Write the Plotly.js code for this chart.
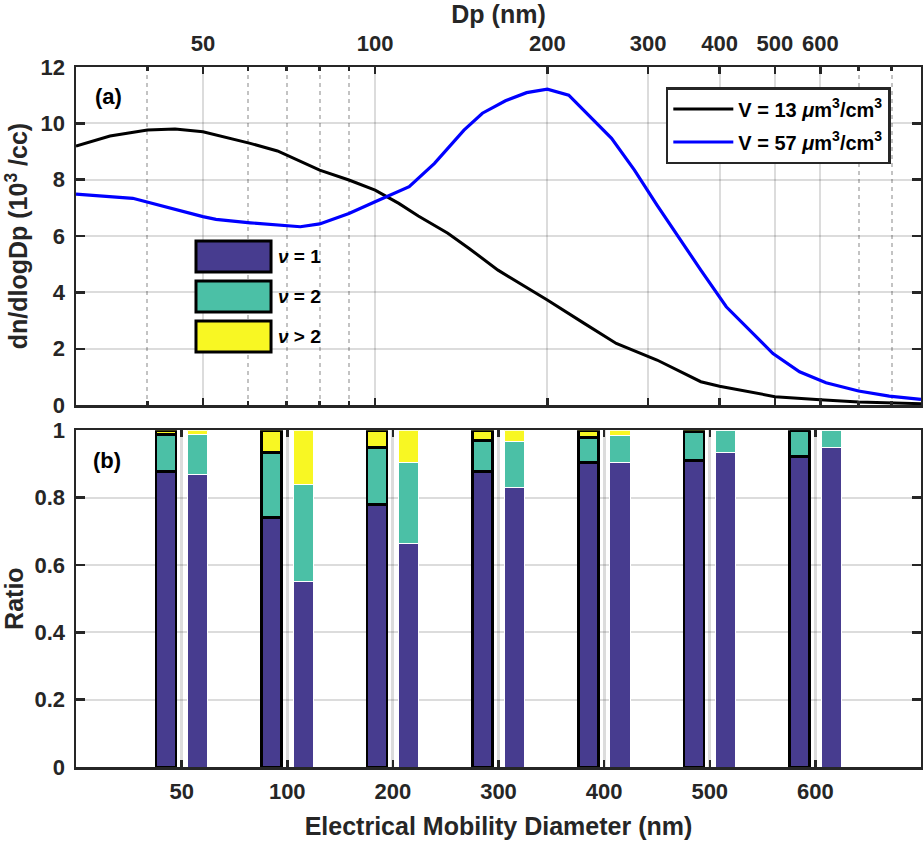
<!DOCTYPE html>
<html>
<head>
<meta charset="utf-8">
<script src="https://cdn.plot.ly/plotly-3.0.1.min.js"></script>
<style>
  html, body { margin: 0; padding: 0; background: #fff; }
  #chart { width: 923px; height: 842px; }
</style>
</head>
<body>
<div id="chart"></div>
<script>
// (a) size distributions, dn/dlogDp in 10^3 /cc
const dpBlack = [30, 34.4, 40, 44.7, 50, 60.5, 67.5, 80, 90, 100, 110, 119, 134, 146, 164, 200, 232, 264, 311, 371, 400, 500, 600, 700, 900]
const nBlack = [9.19, 9.55, 9.76, 9.80, 9.70, 9.29, 9.02, 8.34, 7.99, 7.63, 7.16, 6.71, 6.10, 5.56, 4.79, 3.73, 2.90, 2.19, 1.60, 0.83, 0.67, 0.30, 0.19, 0.11, 0.05]
const dpBlue = [30, 37.7, 50, 52.7, 60.5, 67.5, 74, 80, 90, 100, 104.6, 114.7, 127, 143, 154, 169, 184, 200, 218, 259, 284, 311, 371, 411, 496, 552, 614, 700, 792, 900]
const nBlue = [7.49, 7.34, 6.69, 6.59, 6.47, 6.39, 6.33, 6.43, 6.80, 7.22, 7.40, 7.75, 8.58, 9.76, 10.36, 10.80, 11.09, 11.21, 11.00, 9.47, 8.34, 7.10, 4.79, 3.49, 1.83, 1.18, 0.79, 0.50, 0.32, 0.20]
const lineNames = ['V = 13 <i>μ</i>m<sup>3</sup>/cm<sup>3</sup>', 'V = 57 <i>μ</i>m<sup>3</sup>/cm<sup>3</sup>']

const dpTicks = [50, 100, 200, 300, 400, 500, 600]
const dpMinor = [40, 60, 70, 80, 90, 700, 800]

// (b) charge fractions per mobility diameter
const sizes = ['50', '100', '200', '300', '400', '500', '600']
const nu1Low = [0.878, 0.741, 0.780, 0.878, 0.905, 0.911, 0.922]
const nu2Low = [0.110, 0.193, 0.169, 0.091, 0.073, 0.084, 0.078]
const nu3Low = [0.012, 0.066, 0.051, 0.031, 0.022, 0.005, 0.000]
const nu1High = [0.869, 0.550, 0.664, 0.829, 0.904, 0.934, 0.948]
const nu2High = [0.118, 0.288, 0.240, 0.137, 0.080, 0.066, 0.052]
const nu3High = [0.013, 0.162, 0.096, 0.034, 0.016, 0.000, 0.000]
const chargeLabels = ['<i>ν</i> = 1', '<i>ν</i> = 2', '<i>ν</i> > 2']

const ratioTicks = [0, 0.2, 0.4, 0.6, 0.8, 1]
const ratioText = ['0', '0.2', '0.4', '0.6', '0.8', '1']

const ink = '#262626'
const grid = 'rgba(38,38,38,0.16)'
const chargeColors = ['#473c8f', '#4bc0a6', '#f8f723']
const fnt = 'Liberation Sans, Arial, Helvetica, sans-serif'

const pos = sizes.map((_, i) => i + 1)

let data = [
    {
        x: dpBlack, y: nBlack, type: 'scatter', mode: 'lines', name: lineNames[0],
        line: { color: '#000000', width: 3 }, xaxis: 'x', yaxis: 'y', legendgroup: 'a'
    },
    {
        x: dpBlue, y: nBlue, type: 'scatter', mode: 'lines', name: lineNames[1],
        line: { color: '#0000ff', width: 3.2 }, xaxis: 'x', yaxis: 'y', legendgroup: 'b'
    },
]

const lowSets = [nu1Low, nu2Low, nu3Low]
const highSets = [nu1High, nu2High, nu3High]
lowSets.forEach((vals, k) => {
    data.push({
        x: pos.map(p => p - 0.15), y: vals, type: 'bar', width: 0.19,
        marker: { color: chargeColors[k], line: { color: '#000000', width: 2.5 } },
        xaxis: 'x2', yaxis: 'y2', showlegend: false, name: chargeLabels[k]
    })
})
highSets.forEach((vals, k) => {
    data.push({
        x: pos.map(p => p + 0.15), y: vals, type: 'bar', width: 0.19,
        marker: { color: chargeColors[k], line: { color: '#ffffff', width: 1 } },
        xaxis: 'x2', yaxis: 'y2', showlegend: false, name: chargeLabels[k]
    })
})

// key for the bars, drawn inside panel (a)
let shapes = []
let annotations = [
    { xref: 'x domain', yref: 'y domain', x: 0.02, y: 0.913, xanchor: 'left', yanchor: 'middle',
      text: '(a)', showarrow: false, font: { size: 22, color: '#000', weight: 'bold' } },
    { xref: 'x2 domain', yref: 'y2 domain', x: 0.018, y: 0.91, xanchor: 'left', yanchor: 'middle',
      text: '(b)', showarrow: false, font: { size: 22, color: '#000', weight: 'bold' } },
]
chargeLabels.forEach((lab, k) => {
    const top = 0.7514 - k * 0.0571
    shapes.push({
        type: 'rect', xref: 'paper', yref: 'paper', x0: 0.142, x1: 0.2308, y0: top - 0.0443, y1: top,
        fillcolor: chargeColors[k], line: { color: '#000000', width: 3 }
    })
    annotations.push({
        xref: 'paper', yref: 'paper', x: 0.237, y: top - 0.022, xanchor: 'left', yanchor: 'middle',
        text: lab, showarrow: false, font: { size: 19, color: '#000', weight: 'bold' }
    })
})

const tickFont = { family: fnt, size: 22, color: ink, weight: 'bold' }
const titleFont = { family: fnt, size: 25, color: ink, weight: 'bold' }

const axisCommon = {
    showline: true, linewidth: 2.5, linecolor: ink, mirror: 'allticks',
    ticks: 'inside', tickwidth: 2.5, tickcolor: ink,
    showgrid: true, gridcolor: grid, gridwidth: 2, zeroline: false,
    tickfont: tickFont, automargin: false
}

let layout = {
    width: 923, height: 842,
    margin: { l: 76, r: 2, t: 67, b: 75 },
    paper_bgcolor: '#ffffff', plot_bgcolor: '#ffffff',
    font: { family: fnt, color: ink, weight: 'bold' },
    showlegend: true,
    barmode: 'stack', bargap: 0,
    xaxis: Object.assign({}, axisCommon, {
        type: 'log', range: [Math.log10(30), Math.log10(900)], side: 'top', anchor: 'y',
        tickmode: 'array', tickvals: dpTicks, ticktext: dpTicks.map(String), ticklen: 7,
        ticklabelstandoff: 5,
        minor: { tickmode: 'array', tickvals: dpMinor, ticks: 'inside', ticklen: 4, tickcolor: ink,
                 showgrid: true, griddash: '4px,4px', gridcolor: 'rgba(38,38,38,0.28)', gridwidth: 2 },
        title: { text: 'Dp (nm)', standoff: 4, font: titleFont }
    }),
    yaxis: Object.assign({}, axisCommon, {
        domain: [0.517, 1], anchor: 'x', range: [0, 12], tickmode: 'array',
        tickvals: [0, 2, 4, 6, 8, 10, 12], ticklen: 9, ticklabelstandoff: 4,
        title: { text: 'dn/dlogDp (10<sup>3</sup> /cc)', standoff: 6, font: titleFont }
    }),
    xaxis2: Object.assign({}, axisCommon, {
        anchor: 'y2', range: [0, 8], tickmode: 'array', tickvals: pos, ticktext: sizes,
        ticklen: 7, ticklabelstandoff: 3, gridwidth: 3,
        title: { text: 'Electrical Mobility Diameter (nm)', standoff: 15, font: titleFont }
    }),
    yaxis2: Object.assign({}, axisCommon, {
        domain: [0, 0.481], anchor: 'x2', range: [0, 1], tickmode: 'array',
        tickvals: ratioTicks, ticktext: ratioText, ticklen: 9, ticklabelstandoff: 4,
        title: { text: 'Ratio', standoff: 10, font: titleFont }
    }),
    legend: {
        x: 0.698, y: 0.9714, xanchor: 'left', yanchor: 'top',
        bgcolor: '#ffffff', bordercolor: ink, borderwidth: 2.5,
        font: { family: fnt, size: 20, color: '#000', weight: 'bold' },
        traceorder: 'grouped', tracegroupgap: 4, itemwidth: 60
    },
    shapes: shapes,
    annotations: annotations
}

Plotly.newPlot('chart', data, layout, { displayModeBar: false, staticPlot: true })
</script>
</body>
</html>
